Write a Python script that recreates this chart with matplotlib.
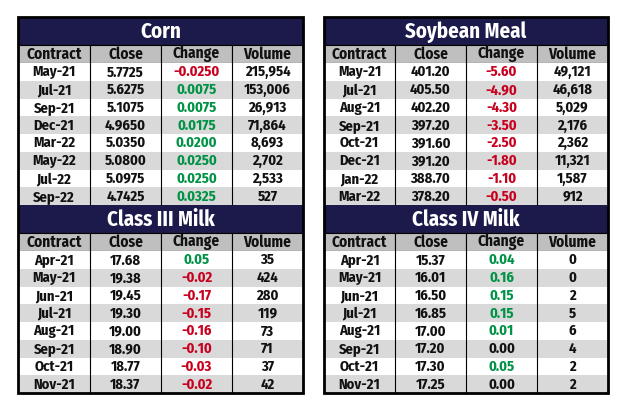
import matplotlib
matplotlib.use("Agg")
import matplotlib.pyplot as plt
from matplotlib.patches import Rectangle

# ---- data ----
columns = ["Contract", "Close", "Change", "Volume"]

corn_title = "Corn"
corn_contract = ["May-21", "Jul-21", "Sep-21", "Dec-21", "Mar-22", "May-22", "Jul-22", "Sep-22"]
corn_close = ["5.7725", "5.6275", "5.1075", "4.9650", "5.0350", "5.0800", "5.0975", "4.7425"]
corn_change = ["-0.0250", "0.0075", "0.0075", "0.0175", "0.0200", "0.0250", "0.0250", "0.0325"]
corn_volume = ["215,954", "153,006", "26,913", "71,864", "8,693", "2,702", "2,533", "527"]

sbm_title = "Soybean Meal"
sbm_contract = ["May-21", "Jul-21", "Aug-21", "Sep-21", "Oct-21", "Dec-21", "Jan-22", "Mar-22"]
sbm_close = ["401.20", "405.50", "402.20", "397.20", "391.60", "391.20", "388.70", "378.20"]
sbm_change = ["-5.60", "-4.90", "-4.30", "-3.50", "-2.50", "-1.80", "-1.10", "-0.50"]
sbm_volume = ["49,121", "46,618", "5,029", "2,176", "2,362", "11,321", "1,587", "912"]

c3_title = "Class III Milk"
c3_contract = ["Apr-21", "May-21", "Jun-21", "Jul-21", "Aug-21", "Sep-21", "Oct-21", "Nov-21"]
c3_close = ["17.68", "19.38", "19.45", "19.30", "19.00", "18.90", "18.77", "18.37"]
c3_change = ["0.05", "-0.02", "-0.17", "-0.15", "-0.16", "-0.10", "-0.03", "-0.02"]
c3_volume = ["35", "424", "280", "119", "73", "71", "37", "42"]

c4_title = "Class IV Milk"
c4_contract = ["Apr-21", "May-21", "Jun-21", "Jul-21", "Aug-21", "Sep-21", "Oct-21", "Nov-21"]
c4_close = ["15.37", "16.01", "16.50", "16.85", "17.00", "17.20", "17.30", "17.25"]
c4_change = ["0.04", "0.16", "0.15", "0.15", "0.01", "0.00", "0.05", "0.00"]
c4_volume = ["0", "0", "2", "5", "6", "4", "2", "2"]

# ---- style ----
NAVY = "#1b1a4a"
HEADER = "#bfbfbf"
ALT = "#d9d9d9"
RED = "#c8001e"
GREEN = "#009245"
FONT = ["Fira Sans Condensed", "DejaVu Sans"]
WEIGHT = "bold"
BODY_SIZE = 10.5

W, H = 628, 412
fig = plt.figure(figsize=(W / 100, H / 100), dpi=100)
ax = fig.add_axes([0, 0, 1, 1])
ax.set_xlim(0, W)
ax.set_ylim(H, 0)
ax.axis("off")


def change_color(s):
    v = float(s)
    if v < 0:
        return RED
    if v > 0:
        return GREEN
    return "#111111"


def draw_table(xedges, ytop, title, contract, close, change, volume,
               title_h=27.5, header_h=18.5, row_h=17.75):
    x0, x1 = xedges[0], xedges[-1]
    # title band
    ax.add_patch(Rectangle((x0, ytop), x1 - x0, title_h, facecolor=NAVY,
                           edgecolor="none"))
    ax.text((x0 + x1) / 2, ytop + title_h / 2 + 1, title, color="white",
            ha="center", va="center", fontsize=15, fontweight=WEIGHT,
            family=FONT)
    # header
    yh = ytop + title_h
    for i, name in enumerate(columns):
        ax.add_patch(Rectangle((xedges[i], yh), xedges[i + 1] - xedges[i],
                               header_h, facecolor=HEADER, edgecolor="black",
                               linewidth=0.8))
        ax.text((xedges[i] + xedges[i + 1]) / 2, yh + header_h / 2 + 0.5,
                name, ha="center", va="center", fontsize=BODY_SIZE + 0.5,
                fontweight=WEIGHT, family=FONT, color="#111111")
    # rows
    yr = yh + header_h
    n = len(contract)
    for r in range(n):
        y = yr + r * row_h
        ax.add_patch(Rectangle((x0, y), x1 - x0, row_h,
                               facecolor="white" if r % 2 == 0 else ALT,
                               edgecolor="none"))
        vals = [contract[r], close[r], change[r], volume[r]]
        cols = ["#111111", "#111111", change_color(change[r]), "#111111"]
        for i in range(4):
            ax.text((xedges[i] + xedges[i + 1]) / 2, y + row_h / 2 + 0.5,
                    vals[i], ha="center", va="center", fontsize=BODY_SIZE,
                    fontweight=WEIGHT, family=FONT, color=cols[i])
    ybot = yr + n * row_h
    # vertical column lines
    for xe in xedges[1:-1]:
        ax.plot([xe, xe], [yr, ybot], color="black", linewidth=0.8)
    return ybot


left_edges = [18, 90, 161, 232, 303]
right_edges = [324, 395, 466, 537, 608]

y_mid_l = draw_table(left_edges, 17, corn_title, corn_contract, corn_close,
                     corn_change, corn_volume)
y_end_l = draw_table(left_edges, y_mid_l, c3_title, c3_contract, c3_close,
                     c3_change, c3_volume)
y_mid_r = draw_table(right_edges, 17, sbm_title, sbm_contract, sbm_close,
                     sbm_change, sbm_volume)
y_end_r = draw_table(right_edges, y_mid_r, c4_title, c4_contract, c4_close,
                     c4_change, c4_volume)

# outer borders
for edges, yb in ((left_edges, y_end_l), (right_edges, y_end_r)):
    ax.add_patch(Rectangle((edges[0], 17), edges[-1] - edges[0], yb - 17,
                           facecolor="none", edgecolor="black", linewidth=2))

fig.savefig("out.png", dpi=100)
